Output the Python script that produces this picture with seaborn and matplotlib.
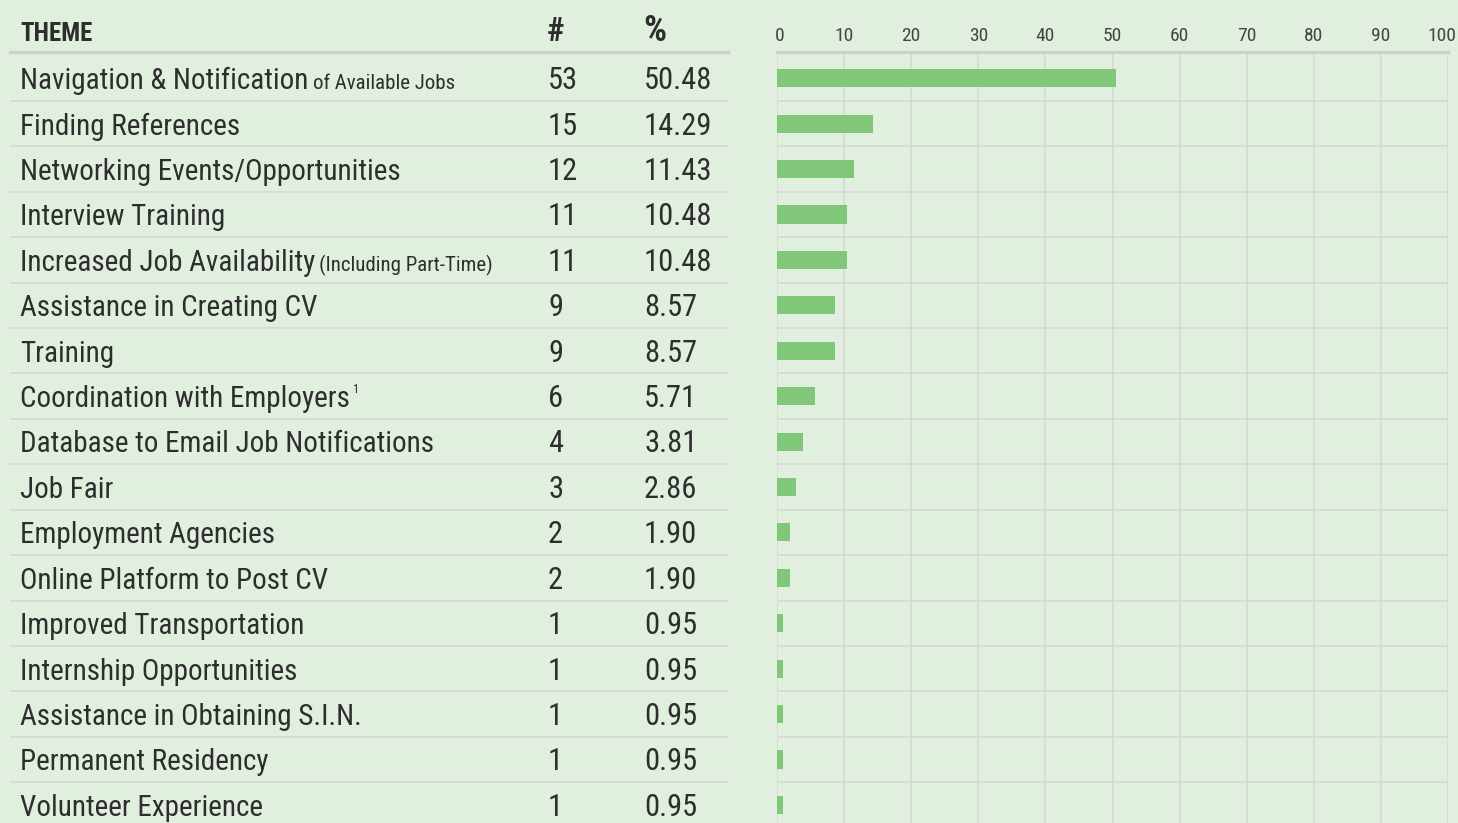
import seaborn as sns
import matplotlib.pyplot as plt
import matplotlib.transforms as mtransforms
import pandas as pd

themes = [
    "Navigation & Notification", "Finding References", "Networking Events/Opportunities",
    "Interview Training", "Increased Job Availability", "Assistance in Creating CV",
    "Training", "Coordination with Employers", "Database to Email Job Notifications",
    "Job Fair", "Employment Agencies", "Online Platform to Post CV",
    "Improved Transportation", "Internship Opportunities", "Assistance in Obtaining S.I.N.",
    "Permanent Residency", "Volunteer Experience",
]
theme_notes = ["of Available Jobs", "", "", "", "(Including Part-Time)", "", "", "", "",
               "", "", "", "", "", "", "", ""]
footnotes = ["", "", "", "", "", "", "", "1", "", "", "", "", "", "", "", "", ""]
counts = [53, 15, 12, 11, 11, 9, 9, 6, 4, 3, 2, 2, 1, 1, 1, 1, 1]
percents = [50.48, 14.29, 11.43, 10.48, 10.48, 8.57, 8.57, 5.71, 3.81, 2.86,
            1.90, 1.90, 0.95, 0.95, 0.95, 0.95, 0.95]
x_ticks = [0, 10, 20, 30, 40, 50, 60, 70, 80, 90, 100]

df = pd.DataFrame({"theme": themes, "pct": percents})

W, H = 1458, 823
bg = "#e1efdf"
bar_color = "#80c77a"
grid_color = "#d4dad2"
head_line = "#cdd2cb"
txt = "#2e2e2e"

sns.set_style("white")
plt.rcParams["font.family"] = ["Roboto Condensed", "Lato", "DejaVu Sans"]

fig = plt.figure(figsize=(W / 100, H / 100), dpi=100, facecolor=bg)


def box(x0, x1, y0, y1):
    return [x0 / W, 1 - y1 / H, (x1 - x0) / W, (y1 - y0) / H]


ax_t = fig.add_axes(box(10, 728, 52, 823))
ax_b = fig.add_axes(box(777, 1448, 52, 823))
ylim = (16.4, -0.58)

# bar chart
sns.barplot(data=df, x="pct", y="theme", orient="h", color=bar_color,
            width=0.4, saturation=1, linewidth=0, ax=ax_b, zorder=3)
ax_b.set_facecolor(bg)
ax_b.set_xlim(0, 100)
ax_b.set_ylim(ylim)
ax_b.xaxis.tick_top()
ax_b.set_xticks(x_ticks)
ax_b.set_yticks([])
ax_b.set_xlabel("")
ax_b.set_ylabel("")
ax_b.tick_params(axis="x", length=0, pad=5, labelsize=14, labelcolor="#444444")
# nudge the first/last labels inwards like the original
labels = ax_b.get_xticklabels()
labels[0].set_transform(labels[0].get_transform() +
                        mtransforms.ScaledTranslation(3 / 100, 0, fig.dpi_scale_trans))
labels[-1].set_transform(labels[-1].get_transform() +
                         mtransforms.ScaledTranslation(-6 / 100, 0, fig.dpi_scale_trans))
ax_b.grid(axis="x", color=grid_color, lw=1.2, zorder=0)
for k in range(len(themes)):
    ax_b.axhline(k + 0.5, color=grid_color, lw=1.2, zorder=1)
for s in ["left", "right", "bottom"]:
    ax_b.spines[s].set_visible(False)
ax_b.spines["top"].set_color(head_line)
ax_b.spines["top"].set_linewidth(2.5)

# table
ax_t.set_facecolor(bg)
ax_t.set_xlim(0, 718)
ax_t.set_ylim(ylim)
ax_t.set_xticks([])
ax_t.set_yticks([])
for s in ["left", "right", "bottom"]:
    ax_t.spines[s].set_visible(False)
ax_t.spines["top"].set_color(head_line)
ax_t.spines["top"].set_linewidth(2.5)
for k in range(len(themes)):
    ax_t.axhline(k + 0.5, color=grid_color, lw=1.2)

base = 0.24
for i, name in enumerate(themes):
    t = ax_t.text(10, i + base, name, fontsize=21, va="baseline", color=txt)
    if theme_notes[i]:
        ax_t.annotate(theme_notes[i], xy=(1, i + base), xycoords=(t, "data"),
                      xytext=(3, 0), textcoords="offset points",
                      va="baseline", fontsize=15, color=txt)
    if footnotes[i]:
        ax_t.annotate(footnotes[i], xy=(1, i + base), xycoords=(t, "data"),
                      xytext=(2, 10), textcoords="offset points",
                      va="baseline", fontsize=9, color=txt)
    ax_t.text(538, i + base, str(counts[i]), fontsize=22, va="baseline", color=txt)
    ax_t.text(634, i + base, f"{percents[i]:.2f}", fontsize=22, va="baseline", color=txt)

# header
fig.text(20 / W, 1 - 41 / H, "THEME", fontsize=18, weight="bold", color=txt, va="baseline")
fig.text(547 / W, 1 - 41 / H, "#", fontsize=24, weight="bold", color=txt, va="baseline")
fig.text(643 / W, 1 - 41 / H, "%", fontsize=26, weight="bold", color=txt, va="baseline")

fig.savefig("out.png", dpi=100, facecolor=bg)
